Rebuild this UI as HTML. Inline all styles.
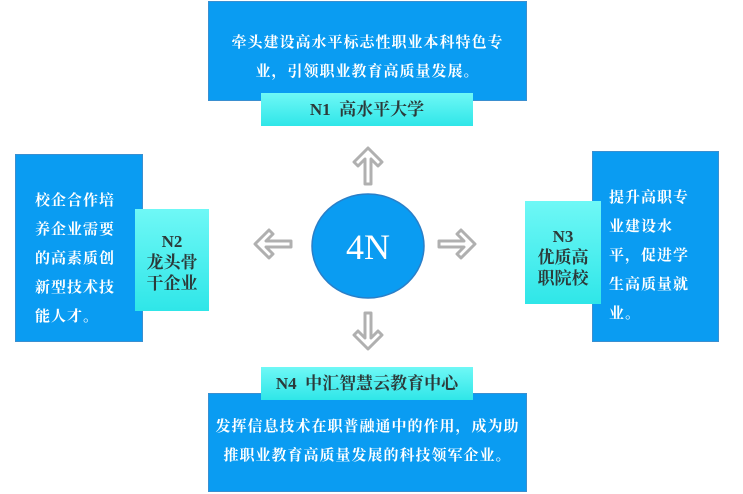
<!DOCTYPE html>
<html><head><meta charset="utf-8"><style>
body{margin:0;width:743px;height:494px;background:#fff;position:relative;overflow:hidden;font-family:"Liberation Serif","Noto Serif CJK SC","Noto Sans CJK SC",serif}
.b{position:absolute;background:#0a9cf2;border:1px solid #3a8fd0;box-sizing:border-box;color:#fff;font-weight:bold;font-size:15px}
.l{position:absolute;background:linear-gradient(#6ff8f6,#2fe6e8);color:#2c3a3a;font-weight:bold;font-size:17px;text-align:center;box-sizing:border-box}
.v{line-height:29px;padding-left:19px;letter-spacing:1px}
</style></head><body>
<div class="b" style="left:208px;top:1px;width:319px;height:100px;text-align:center;line-height:29px;padding-top:27px;letter-spacing:1px">牵头建设高水平标志性职业本科特色专<br>业，引领职业教育高质量发展。</div>
<div class="l" style="left:261px;top:93px;width:212px;height:33px;line-height:33px">N1&nbsp; 高水平大学</div>

<div class="b v" style="left:15px;top:154px;width:128px;height:188px;padding-top:32px">校企合作培<br>养企业需要<br>的高素质创<br>新型技术技<br>能人才。</div>
<div class="l" style="left:135px;top:209px;width:74px;height:102px;padding-top:22px;line-height:21px">N2<br>龙头骨<br>干企业</div>

<div class="b v" style="left:592px;top:151px;width:127px;height:191px;padding-top:32px;padding-left:16px">提升高职专<br>业建设水<br>平，促进学<br>生高质量就<br>业。</div>
<div class="l" style="left:525px;top:201px;width:76px;height:103px;padding-top:25px;line-height:21px">N3<br>优质高<br>职院校</div>

<div class="b" style="left:208px;top:393px;width:319px;height:99px;text-align:center;line-height:29px;padding-top:19px;letter-spacing:1px">发挥信息技术在职普融通中的作用，成为助<br>推职业教育高质量发展的科技领军企业。</div>
<div class="l" style="left:261px;top:367px;width:212px;height:33px;line-height:33px">N4&nbsp; 中汇智慧云教育中心</div>

<svg width="743" height="494" style="position:absolute;left:0;top:0">
<ellipse cx="368" cy="246" rx="56" ry="52" fill="#0a9cf2" stroke="#2a7fc8" stroke-width="1.5"/>
<text x="368" y="259" fill="#fff" font-size="36" text-anchor="middle" font-family="Liberation Serif,serif">4N</text>
<g fill="#fff" stroke="#b0b0b0" stroke-width="3" stroke-linejoin="round">
<path transform="translate(368,166)" d="M0,-18 L14,-4 L10,0 L3,-7 L3,18 L-3,18 L-3,-7 L-10,0 L-14,-4 Z"/>
<path transform="translate(368,331) rotate(180)" d="M0,-18 L14,-4 L10,0 L3,-7 L3,18 L-3,18 L-3,-7 L-10,0 L-14,-4 Z"/>
<path transform="translate(273,244) rotate(-90)" d="M0,-18 L14,-4 L10,0 L3,-7 L3,18 L-3,18 L-3,-7 L-10,0 L-14,-4 Z"/>
<path transform="translate(457,244) rotate(90)" d="M0,-18 L14,-4 L10,0 L3,-7 L3,18 L-3,18 L-3,-7 L-10,0 L-14,-4 Z"/>
</g>
</svg>
</body></html>
